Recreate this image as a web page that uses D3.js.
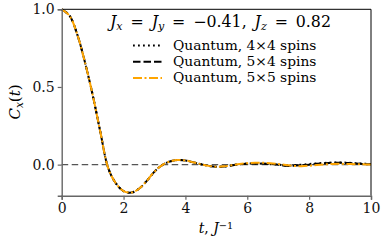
<!DOCTYPE html>
<html>
<head>
<meta charset="utf-8">
<script src="https://cdn.jsdelivr.net/npm/d3@7"></script>
<style>
body { margin: 0; background: #fff; }
text { font-family: "DejaVu Serif", serif; }
</style>
</head>
<body>
<script>
// time axis, t in units of 1/J
var times = [0, 0.25, 0.5, 0.75, 1, 1.25, 1.5, 1.75, 2, 2.25, 2.5, 2.75, 3, 3.25, 3.5, 3.75, 4, 4.25, 4.5, 4.75,
    5, 5.25, 5.5, 5.75, 6, 6.25, 6.5, 6.75, 7, 7.25, 7.5, 7.75, 8, 8.25, 8.5, 8.75, 9, 9.25, 9.5, 9.75, 10];

// C_x(t) for each lattice size
var q4x4 = [1, 0.96, 0.84, 0.66, 0.45, 0.21, -0.02, -0.12, -0.17, -0.18, -0.155, -0.105, -0.045, -0.003, 0.02, 0.03, 0.027, 0.015, 0.003, -0.008,
    -0.014, -0.011, -0.004, 0.003, 0.007, 0.008, 0.006, 0.003, 0.0, -0.006, -0.004, 0.0, 0.004, 0.008, 0.011, 0.013, 0.014, 0.012, 0.009, 0.006, 0.004];
var q5x4 = [1, 0.96, 0.84, 0.66, 0.45, 0.21, -0.02, -0.12, -0.17, -0.18, -0.155, -0.105, -0.045, -0.003, 0.02, 0.03, 0.027, 0.015, 0.003, -0.008,
    -0.014, -0.012, -0.005, 0.002, 0.006, 0.008, 0.007, 0.004, 0.0, -0.008, -0.007, -0.004, 0.0, 0.005, 0.009, 0.012, 0.012, 0.01, 0.007, 0.004, 0.002];
var q5x5 = [1, 0.96, 0.84, 0.66, 0.45, 0.21, -0.02, -0.12, -0.17, -0.18, -0.155, -0.105, -0.045, -0.003, 0.02, 0.03, 0.027, 0.015, 0.003, -0.008,
    -0.013, -0.011, -0.004, 0.004, 0.009, 0.012, 0.012, 0.009, 0.004, -0.002, -0.008, -0.01, -0.007, -0.002, 0.002, 0.004, 0.005, 0.004, 0.003, 0.002, 0.001];

var xTicks = [0, 2, 4, 6, 8, 10];
var yTicks = [0, 0.5, 1];
var seriesNames = ["Quantum, 4\u00d74 spins", "Quantum, 5\u00d74 spins", "Quantum, 5\u00d75 spins"];

var W = 387, H = 242;
var svg = d3.select("body").append("svg")
    .attr("width", W).attr("height", H);

var x = d3.scaleLinear().domain([0, 10]).range([61.7, 371]);
var y = d3.scaleLinear().domain([-0.2, 1]).range([195.7, 9.3]);

// zero line
svg.append("line")
    .attr("x1", x(0)).attr("x2", x(10))
    .attr("y1", y(0)).attr("y2", y(0))
    .attr("stroke", "#555").attr("stroke-width", 1.2)
    .attr("stroke-dasharray", "6.5,3.5");

var styles = [
    {data: q4x4, color: "#000", dash: "1.8,3.2", width: 2},
    {data: q5x4, color: "#000", dash: "7.5,3", width: 2},
    {data: q5x5, color: "#FFA500", dash: "9,2.5,2,2.5", width: 2}
];

var line = d3.line()
    .x(function(d) { return x(d[0]); })
    .y(function(d) { return y(d[1]); })
    .curve(d3.curveCatmullRom);

styles.forEach(function(s) {
    svg.append("path")
        .datum(times.map(function(t, i) { return [t, s.data[i]]; }))
        .attr("d", line)
        .attr("fill", "none")
        .attr("stroke", s.color)
        .attr("stroke-width", s.width)
        .attr("stroke-dasharray", s.dash);
});

// frame: top and right black, left and bottom grey
svg.append("line").attr("x1", x(0)).attr("x2", x(10)).attr("y1", y(1)).attr("y2", y(1))
    .attr("stroke", "#000").attr("stroke-width", 1);
svg.append("line").attr("x1", x(10)).attr("x2", x(10)).attr("y1", y(1)).attr("y2", y(-0.2))
    .attr("stroke", "#000").attr("stroke-width", 1);

var xAxis = svg.append("g")
    .attr("transform", "translate(0," + y(-0.2) + ")")
    .call(d3.axisBottom(x).tickValues(xTicks).tickFormat(d3.format("d")).tickSize(4).tickPadding(3));
var yAxis = svg.append("g")
    .attr("transform", "translate(" + x(0) + ",0)")
    .call(d3.axisLeft(y).tickValues(yTicks).tickFormat(d3.format(".1f")).tickSize(4).tickPadding(3));

[xAxis, yAxis].forEach(function(a) {
    a.select(".domain").attr("stroke", "#666").attr("stroke-width", 1.4);
    a.selectAll(".tick line").attr("stroke", "#666").attr("stroke-width", 1.2);
    a.selectAll(".tick text")
        .attr("fill", "#111")
        .style("font-size", "14px")
        .style("font-family", "'DejaVu Serif', serif");
});

function sub(el, base, s) {
    el.append("tspan").style("font-style", "italic").text(base);
    el.append("tspan").attr("baseline-shift", "-25%").style("font-size", "70%")
        .style("font-style", "italic").text(s);
}

// axis labels
var xl = svg.append("text")
    .attr("x", 216).attr("y", 233)
    .attr("text-anchor", "middle")
    .style("font-size", "14px");
xl.append("tspan").style("font-style", "italic").text("t");
xl.append("tspan").text(", ");
xl.append("tspan").style("font-style", "italic").text("J");
xl.append("tspan").attr("baseline-shift", "40%").style("font-size", "70%").text("\u22121");

var yl = svg.append("text")
    .attr("transform", "translate(20,102) rotate(-90)")
    .attr("text-anchor", "middle")
    .style("font-size", "15px");
sub(yl, "C", "x");
yl.append("tspan").text("(");
yl.append("tspan").style("font-style", "italic").text("t");
yl.append("tspan").text(")");

// legend title
var title = svg.append("text")
    .attr("x", 110).attr("y", 27)
    .style("font-size", "15.8px");
sub(title, "J", "x");
title.append("tspan").text("\u2002=\u2002");
sub(title, "J", "y");
title.append("tspan").text("\u2002=\u2002\u22120.41,\u2002");
sub(title, "J", "z");
title.append("tspan").text("\u2002=\u20020.82");

// legend entries
var leg = svg.append("g");
styles.forEach(function(s, i) {
    var ly = 49.5 + i * 16.3;
    leg.append("line")
        .attr("x1", 133).attr("x2", 162)
        .attr("y1", ly - 4).attr("y2", ly - 4)
        .attr("stroke", s.color).attr("stroke-width", s.width)
        .attr("stroke-dasharray", s.dash);
    leg.append("text")
        .attr("x", 173).attr("y", ly)
        .style("font-size", "13.8px")
        .text(seriesNames[i]);
});
</script>
</body>
</html>
